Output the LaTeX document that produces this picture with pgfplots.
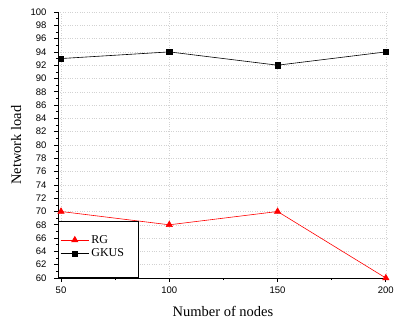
\documentclass[border=0pt]{standalone}
\usepackage{fontspec}
\setmainfont{Liberation Serif}
\setsansfont{Liberation Sans}
\usepackage{pgfplots}
\pgfplotsset{compat=1.18}
\begin{document}
\begin{tikzpicture}
\begin{axis}[
  at={(0,0)}, anchor=south west,
  scale only axis,
  width=330pt, height=266pt,
  xmin=48.6, xmax=201, ymin=60, ymax=100,
  axis x line*=bottom, axis y line*=left,
  axis line style={line width=0.9pt},
  tick align=outside,
  xtick={50,100,150,200},
  minor xtick={75,125,175},
  ytick={60,62,...,100},
  minor ytick={61,63,...,99},
  major tick length=3.5pt, minor tick length=2pt,
  tick style={line width=0.7pt, black},
  grid=major,
  major grid style={dotted, gray!35, line width=0.5pt},
  /pgf/number format/assume math mode=true,
  tick label style={font=\sffamily\fontsize{9.5}{10}\selectfont},
  yticklabel style={xshift=-4.5pt},
  xticklabel style={yshift=-2pt},
  xlabel={Number of nodes}, ylabel={Network load},
  label style={font=\fontsize{14.5}{15}\selectfont},
  xlabel style={at={(axis description cs:0.5,-0.124)}, anchor=center},
  ylabel style={at={(axis description cs:-0.127,0.5)}, anchor=center},
  legend style={at={(rel axis cs:0,0)}, anchor=south west, draw=black, line width=0.6pt,
    font=\fontsize{12}{13}\selectfont, inner xsep=2pt, inner ysep=12pt, row sep=0pt,
    legend cell align=left},
  legend image code/.code={\draw[mark repeat=2,mark phase=2] plot coordinates {(0cm,0cm) (0.5cm,0cm) (1cm,0cm)};},
]
\addplot[red, line width=0.6pt, mark=triangle*, mark size=3.6pt, mark options={fill=red}] coordinates {(50,70) (100,68) (150,70) (200,60)};
\addlegendentry{RG}
\addplot[black, line width=0.6pt, mark=square*, mark size=2.6pt] coordinates {(50,93) (100,94) (150,92) (200,94)};
\addlegendentry{GKUS\hspace*{10pt}}
\addlegendimage{empty legend}
\addlegendentry{}
\end{axis}
\pgfresetboundingbox
\path (-58pt,-46pt) rectangle (337pt,278pt);
\end{tikzpicture}
\end{document}
